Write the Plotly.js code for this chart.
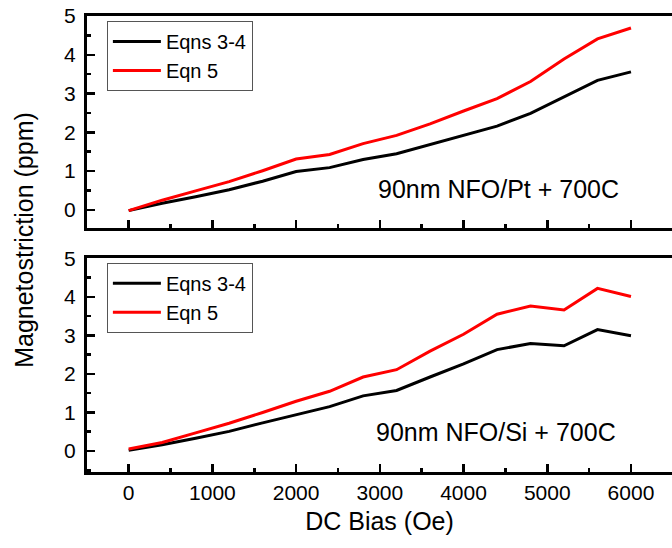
<!DOCTYPE html>
<html>
<head>
<meta charset="utf-8">
<script src="https://cdn.plot.ly/plotly-3.0.1.min.js"></script>
<style>html,body{margin:0;padding:0;overflow:hidden;background:#fff;}</style>
</head>
<body>
<div id="chart" style="width:672px;height:548px;"></div>
<script>
const bias = [0, 400, 800, 1200, 1600, 2000, 2400, 2800, 3200, 3600, 4000, 4400, 4800, 5200, 5600, 6000];

const ptEqns34 = [-0.02, 0.17, 0.34, 0.52, 0.74, 0.99, 1.09, 1.30, 1.45, 1.69, 1.93, 2.16, 2.49, 2.92, 3.34, 3.56];
const ptEqn5   = [-0.02, 0.25, 0.49, 0.73, 1.01, 1.31, 1.43, 1.71, 1.92, 2.22, 2.55, 2.87, 3.31, 3.89, 4.41, 4.69];

const siEqns34 = [0.02, 0.16, 0.33, 0.51, 0.73, 0.95, 1.15, 1.43, 1.57, 1.92, 2.26, 2.63, 2.79, 2.73, 3.15, 2.99];
const siEqn5   = [0.05, 0.22, 0.47, 0.72, 1.00, 1.29, 1.55, 1.92, 2.11, 2.59, 3.03, 3.55, 3.76, 3.66, 4.22, 4.01];

const seriesNames = ['Eqns 3-4', 'Eqn 5'];
const panelLabels = ['90nm NFO/Pt + 700C', '90nm NFO/Si + 700C'];
const xTitle = 'DC Bias (Oe)';
const yTitle = 'Magnetostriction (ppm)';

const FONT = 'Arial, "Liberation Sans", sans-serif';

const traces = [
  {x: bias, y: ptEqns34, name: seriesNames[0], xaxis: 'x', yaxis: 'y', legend: 'legend',
   mode: 'lines', line: {color: '#000000', width: 3}},
  {x: bias, y: ptEqn5, name: seriesNames[1], xaxis: 'x', yaxis: 'y', legend: 'legend',
   mode: 'lines', line: {color: '#ff0000', width: 3}},
  {x: bias, y: siEqns34, name: seriesNames[0], xaxis: 'x2', yaxis: 'y2', legend: 'legend2',
   mode: 'lines', line: {color: '#000000', width: 3}},
  {x: bias, y: siEqn5, name: seriesNames[1], xaxis: 'x2', yaxis: 'y2', legend: 'legend2',
   mode: 'lines', line: {color: '#ff0000', width: 3}}
];

const xCommon = {
  range: [-498, 6490], showline: true, linecolor: '#000', linewidth: 3, mirror: true,
  ticks: 'inside', ticklen: 8, tickwidth: 2.5, tickcolor: '#000', dtick: 1000, tick0: 0,
  minor: {ticks: 'inside', ticklen: 4, tickwidth: 2.5, tickcolor: '#000', dtick: 500},
  showgrid: false, zeroline: false,
  tickfont: {family: FONT, size: 21, color: '#000'}
};
const yCommon = {
  showline: true, linecolor: '#000', linewidth: 3, mirror: false,
  ticks: 'inside', ticklen: 8, tickwidth: 2.5, tickcolor: '#000', dtick: 1, tick0: 0,
  minor: {ticks: 'inside', ticklen: 4, tickwidth: 2.5, tickcolor: '#000', dtick: 0.5},
  showgrid: false, zeroline: false,
  tickfont: {family: FONT, size: 21, color: '#000'}, ticklabelstandoff: 4
};

const legendCommon = {
  xref: 'paper', yref: 'paper', x: 0.034, xanchor: 'left', yanchor: 'top',
  bgcolor: '#ffffff', bordercolor: '#555', borderwidth: 1, itemwidth: 48,
  font: {family: FONT, size: 20, color: '#000'}, tracegroupgap: 0
};

const layout = {
  width: 672, height: 548,
  margin: {l: 87, r: 0, t: 16, b: 76},
  paper_bgcolor: '#fff', plot_bgcolor: '#fff',
  font: {family: FONT, color: '#000'},
  showlegend: true,
  xaxis: Object.assign({}, xCommon, {anchor: 'y', showticklabels: false}),
  yaxis: Object.assign({}, yCommon, {domain: [0.534, 1], range: [-0.48, 5], anchor: 'x'}),
  xaxis2: Object.assign({}, xCommon, {anchor: 'y2', matches: 'x',
    title: {text: xTitle, font: {family: FONT, size: 25, color: '#000'}, standoff: 10}}),
  yaxis2: Object.assign({}, yCommon, {domain: [0, 0.4686], range: [-0.545, 5], anchor: 'x2'}),
  legend: Object.assign({}, legendCommon, {y: 0.989}),
  legend2: Object.assign({}, legendCommon, {y: 0.4587}),
  annotations: [
    {text: panelLabels[0], xref: 'x', yref: 'y', x: 4416, y: 0.54, showarrow: false,
     font: {family: FONT, size: 25, color: '#000'}},
    {text: panelLabels[1], xref: 'x2', yref: 'y2', x: 4383, y: 0.49, showarrow: false,
     font: {family: FONT, size: 25, color: '#000'}},
    {text: yTitle, xref: 'paper', yref: 'paper', x: -0.107, y: 0.51, textangle: -90,
     showarrow: false, xanchor: 'center', yanchor: 'middle',
     font: {family: FONT, size: 25, color: '#000'}}
  ]
};

Plotly.newPlot('chart', traces, layout, {displayModeBar: false, staticPlot: true});
</script>
</body>
</html>
